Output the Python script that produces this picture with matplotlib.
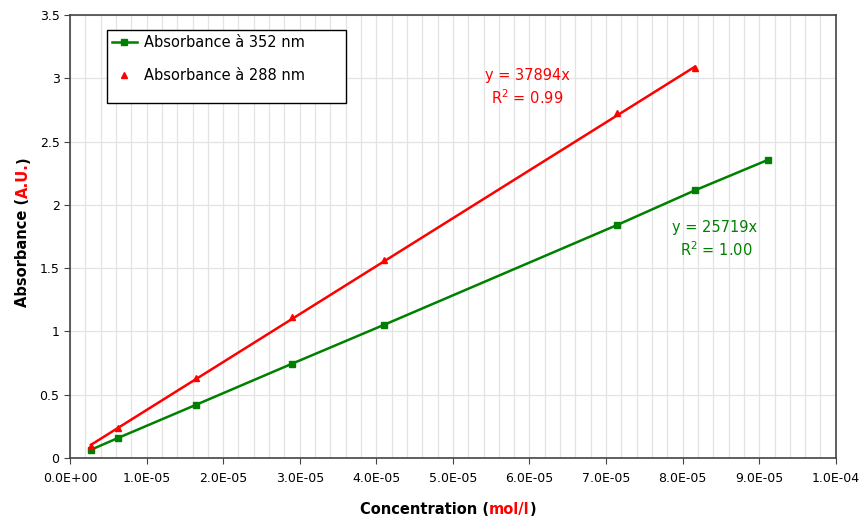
import numpy as np
import matplotlib
matplotlib.use("Agg")
import matplotlib.pyplot as plt
from matplotlib.ticker import MultipleLocator, FuncFormatter
from matplotlib.patches import Rectangle

# concentrations (mol/l)
conc_352 = [2.74e-6, 6.27e-6, 1.645e-5, 2.90e-5, 4.10e-5, 7.14e-5, 8.16e-5, 9.11e-5]
abs_352 = [0.065, 0.158, 0.420, 0.745, 1.052, 1.840, 2.115, 2.355]

conc_288 = [2.74e-6, 6.27e-6, 1.645e-5, 2.90e-5, 4.10e-5, 7.14e-5, 8.16e-5]
abs_288 = [0.095, 0.237, 0.632, 1.114, 1.564, 2.725, 3.08]

# trendline slope (y = a x) for the 288 nm series
slope_288 = 37894

green = "#008000"
red = "#ff0000"

plt.rcParams["font.family"] = "DejaVu Sans"

fig = plt.figure(figsize=(8.59, 5.21), dpi=100)
ax = fig.add_axes([0.0815, 0.121, 0.8915, 0.85])

ax.plot(conc_352, abs_352, color=green, lw=1.8, marker="s", ms=5, zorder=3,
        label="Absorbance à 352 nm")
ax.plot(conc_288, abs_288, color=red, lw=0, marker="^", ms=5, zorder=3,
        label="Absorbance à 288 nm")

# trendline
x288 = np.array([min(conc_288), max(conc_288)])
ax.plot(x288, slope_288 * x288, color=red, lw=1.8, zorder=2)

ax.set_xlim(0, 1e-4)
ax.set_ylim(0, 3.5)
ax.xaxis.set_major_locator(MultipleLocator(1e-5))
ax.xaxis.set_minor_locator(MultipleLocator(2e-6))
ax.yaxis.set_major_locator(MultipleLocator(0.5))
ax.xaxis.set_major_formatter(FuncFormatter(
    lambda v, p: "0.0E+00" if abs(v) < 1e-12 else "%.1E" % v))
ax.yaxis.set_major_formatter(FuncFormatter(lambda v, p: "%g" % v))
ax.tick_params(axis="both", which="major", labelsize=9, length=4,
               direction="out", color="#444444")
ax.tick_params(axis="x", which="minor", length=0)
ax.tick_params(axis="x", pad=6)

ax.grid(True, which="both", axis="x", color="#e3e3e3", lw=0.9)
ax.grid(True, which="major", axis="y", color="#e3e3e3", lw=0.9)
ax.set_axisbelow(True)
for s in ax.spines.values():
    s.set_color("#444444")
    s.set_linewidth(1.2)

# legend box (taller than its two rows, as in the original)
ax.add_patch(Rectangle((0.048, 0.801), 0.312, 0.165, transform=ax.transAxes,
                       facecolor="white", edgecolor="black", lw=1.0, zorder=4))
leg = ax.legend(loc="upper left", bbox_to_anchor=(0.048, 0.966),
                borderaxespad=0, fontsize=10.5, frameon=False,
                handlelength=1.7, borderpad=0.35, labelspacing=1.25,
                handletextpad=0.5)
leg.set_zorder(5)

# trendline equations
ax.text(5.97e-5, 3.025, "y = 37894x", color=red, fontsize=10.5, ha="center", va="center")
ax.text(5.97e-5, 2.844, "R$^2$ = 0.99", color=red, fontsize=10.5, ha="center", va="center")
ax.text(8.42e-5, 1.825, "y = 25719x", color=green, fontsize=10.5, ha="center", va="center")
ax.text(8.44e-5, 1.643, "R$^2$ = 1.00", color=green, fontsize=10.5, ha="center", va="center")

# axis titles with coloured units
t1 = fig.text(0.569, 0.013, "Concentration (", fontsize=10.5, fontweight="bold",
              ha="right", va="baseline")
t2 = fig.text(0.569, 0.013, "mol/l", fontsize=10.5, fontweight="bold", color=red,
              ha="left", va="baseline")
fig.canvas.draw()
t3 = ax.annotate(")", xy=(1, 0), xycoords=t2, fontsize=10.5, fontweight="bold",
                 va="bottom")

y1 = fig.text(0.018, 0.411, "Absorbance (", fontsize=10.5, fontweight="bold",
              rotation=90, ha="left", va="bottom")
y2 = ax.annotate("A.U.", xy=(0, 1), xycoords=y1, fontsize=10.5, fontweight="bold",
                 color=red, rotation=90, ha="left", va="bottom")
y3 = ax.annotate(")", xy=(0, 1), xycoords=y2, fontsize=10.5, fontweight="bold",
                 rotation=90, ha="left", va="bottom")

fig.savefig("out.png", dpi=100)
